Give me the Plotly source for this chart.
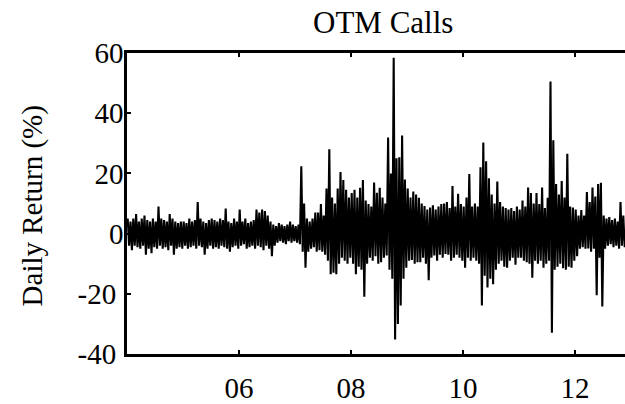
import plotly.graph_objects as go

# Daily returns of the OTM call portfolio, summarised per 0.05-year bin
# as the highest and lowest daily return inside each bin.
start_year = 2004.0
bin_width = 0.05

hi_2004 = [5, 4, 5, 6.5, 4, 5, 6, 4.5, 4, 5, 4, 9, 5, 4.5, 4, 6.5, 5, 4, 3.5, 4]
lo_2004 = [-4, -5.5, -4, -4.5, -5, -4, -7, -5, -6.5, -4.5, -5, -4, -5, -4.5, -5.5, -4, -7, -5, -4.5, -5]
hi_2005 = [4, 3.5, 5, 4, 4.5, 10.5, 5, 4, 3.5, 4.5, 5, 4.5, 4, 5, 4.5, 8.3, 4, 3.5, 5, 4]
lo_2005 = [-4, -5, -4.5, -4, -5, -4, -4.5, -7, -5, -4, -5, -4.5, -5, -4, -4.5, -5, -6, -4.5, -4, -5]
hi_2006 = [8, 4, 5, 3.5, 4, 4.5, 8, 7, 8, 7.5, 6, 4, 3, 2.5, 3.5, 3, 2.5, 3, 4, 3]
lo_2006 = [-4, -3.5, -5, -4.5, -4, -5, -4, -4.5, -5.5, -4, -5, -7.5, -4, -3, -2.5, -3, -3.5, -2.5, -3, -2.5]
hi_2007 = [2.5, 3, 22.4, 10, 5, 4, 5, 7, 7, 9.8, 6, 15, 28, 12, 10, 15, 20.5, 17.8, 14.6, 12]
lo_2007 = [-3, -3.5, -6, -11.3, -6, -5, -4.5, -6, -5.5, -6, -7, -9, -13.5, -13, -13.5, -10, -8, -9, -10, -8]
hi_2008 = [13.5, 14.6, 12, 15.2, 17.8, 11, 9.8, 9, 17, 13.6, 15.2, 12, 10, 31.9, 20, 58.4, 25, 25.4, 32.6, 18]
lo_2008 = [-10, -13.5, -11, -12, -21, -10, -8, -9, -7.5, -10, -9.5, -8, -7.3, -12, -15, -35.2, -30, -23.9, -15, -11.3]
hi_2009 = [15, 12, 14, 13, 11.9, 10, 9.2, 8, 8.7, 9.4, 8, 9, 9.8, 10, 10.5, 8.5, 15.8, 9, 13.2, 9.8]
lo_2009 = [-9, -8.8, -10, -9.5, -9.5, -8, -10, -15.5, -8, -7.3, -9, -7, -8, -6.8, -7, -9, -8, -7, -8, -9]
hi_2010 = [9, 12, 19.8, 9, 10, 9, 22, 30.3, 24, 18.4, 13, 10, 17.3, 10.5, 9, 8.5, 8, 8.5, 7.5, 9]
lo_2010 = [-11.3, -8, -9, -8, -9, -10, -23.9, -14, -17.9, -15, -16.8, -12, -10, -9, -11, -11.3, -9, -8, -10.3, -8]
hi_2011 = [8, 11, 9, 15.3, 13.5, 10, 13.5, 9.8, 15.3, 8.5, 11.9, 50.5, 31, 16.5, 13, 17.5, 12, 26.5, 9, 8.7]
lo_2011 = [-8, -9, -9.5, -10, -14.7, -9, -10, -9, -11.3, -10, -9, -32.9, -12, -11, -10, -11.5, -12, -11, -11.3, -9]
hi_2012 = [8, 6, 7.8, 6, 13.8, 10.5, 15.3, 12.3, 16.5, 16.9, 6, 5, 5.5, 4.5, 5, 4, 10.5, 6]
lo_2012 = [-7.5, -5, -4.5, -5, -4.9, -6, -5, -20.5, -8, -24.2, -5, -4, -3.5, -4.5, -4, -5, -4, -4.5]

tick_years = [2006, 2008, 2010, 2012]
tick_labels = ["06", "08", "10", "12"]
y_ticks = [-40, -20, 0, 20, 40, 60]
y_tick_labels = ["-40\u00a0", "-20\u00a0", "0", "20", "40", "60"]

highs = hi_2004 + hi_2005 + hi_2006 + hi_2007 + hi_2008 + hi_2009 + hi_2010 + hi_2011 + hi_2012
lows = lo_2004 + lo_2005 + lo_2006 + lo_2007 + lo_2008 + lo_2009 + lo_2010 + lo_2011 + lo_2012

# Trace each bin as high then low so the line sweeps the full daily range
xs, ys = [], []
for i, (h, l) in enumerate(zip(highs, lows)):
    t0 = start_year + i * bin_width
    xs += [t0 + 0.25 * bin_width, t0 + 0.75 * bin_width]
    ys += [h, l]

serif = "Liberation Serif, Tinos, Times New Roman, DejaVu Serif, serif"

fig = go.Figure(
    go.Scatter(x=xs, y=ys, mode="lines",
               line=dict(color="black", width=2.1), hoverinfo="skip")
)

fig.update_layout(
    width=625, height=404,
    margin=dict(l=127, r=0, t=53, b=43),
    plot_bgcolor="white", paper_bgcolor="white",
    showlegend=False,
    font=dict(family=serif, size=28, color="black"),
    xaxis=dict(
        range=[2004.0, 2004.0 + 498 / 56],
        tickvals=tick_years, ticktext=tick_labels,
        ticks="inside", ticklen=4, tickwidth=2, tickcolor="black",
        showline=True, linecolor="black", linewidth=2.5, mirror="ticks",
        showgrid=False, zeroline=False,
        ticklabelstandoff=6,
        tickfont=dict(family=serif, size=29, color="black"),
    ),
    yaxis=dict(
        range=[-40, 60],
        tickvals=y_ticks, ticktext=y_tick_labels,
        ticks="inside", ticklen=4, tickwidth=2, tickcolor="black",
        showline=True, linecolor="black", linewidth=2.5, mirror=False,
        showgrid=False, zeroline=False,
        ticklabelstandoff=-5,
        tickfont=dict(family=serif, size=29, color="black"),
    ),
    annotations=[
        dict(text="OTM Calls", xref="paper", yref="paper",
             x=(382.5 - 127) / 498, y=1 + (53 - 22) / 308,
             xanchor="center", yanchor="middle", showarrow=False,
             font=dict(family=serif, size=31, color="black")),
        dict(text="Daily Return (%)", xref="paper", yref="paper",
             x=(32 - 127) / 498, y=(361 - 210) / 308,
             xanchor="center", yanchor="middle", textangle=-90,
             showarrow=False,
             font=dict(family=serif, size=29, color="black")),
    ],
)

fig.write_html("out.html")
